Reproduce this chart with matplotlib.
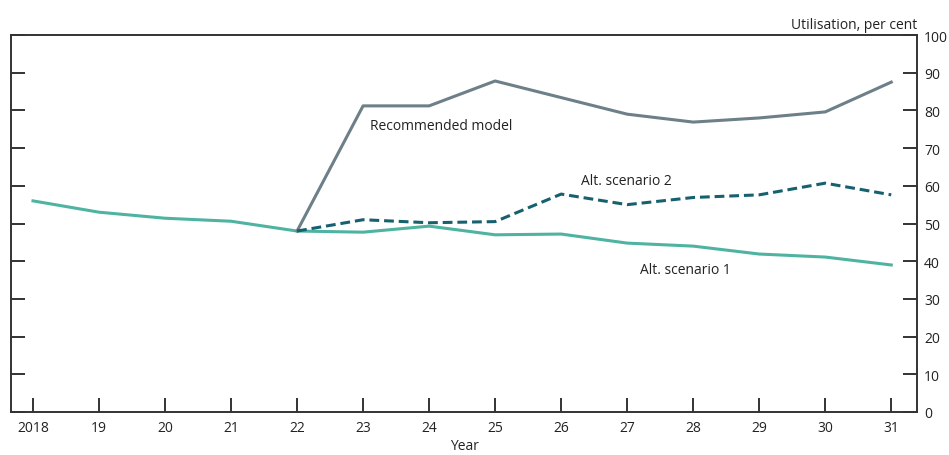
import matplotlib.pyplot as plt

plt.rcParams['font.family'] = ['Open Sans', 'DejaVu Sans']

# Data
years = list(range(2018, 2032))
year_labels = ['2018'] + [str(y)[2:] for y in years[1:]]
alt1 = [56, 53, 51.4, 50.6, 48, 47.7, 49.3, 47, 47.2, 44.8, 44, 41.9, 41.1, 39]
rec_years = list(range(2022, 2032))
recommended = [48, 81.2, 81.2, 87.8, 83.4, 79, 76.9, 78, 79.6, 87.5]
alt2 = [48, 51, 50.2, 50.5, 57.8, 55, 56.9, 57.6, 60.7, 57.6]

fig = plt.figure(figsize=(9.49, 4.56), dpi=100)
ax = fig.add_axes([11 / 949, 43 / 456, 906 / 949, 377 / 456])

ax.plot(years, alt1, color='#4fb3a2', lw=2.2)
ax.plot(rec_years, recommended, color='#6d7f88', lw=2.2)
ax.plot(rec_years, alt2, color='#17616e', lw=2.2, ls=(0, (3.2, 1.6)))

ax.text(2023.1, 76.1, 'Recommended model', fontsize=10, color='#222222', va='center')
ax.text(2026.3, 61.3, 'Alt. scenario 2', fontsize=10, color='#222222', va='center')
ax.text(2027.2, 37.8, 'Alt. scenario 1', fontsize=10, color='#222222', va='center')

ax.set_xlim(2017.667, 2031.39)
ax.set_ylim(0, 100)
ax.set_xticks(years)
ax.set_xticklabels(year_labels)
ax.set_yticks(range(0, 101, 10))

for s in ax.spines.values():
    s.set_color('#333333')
    s.set_linewidth(1.4)

ax.yaxis.tick_right()
ax.tick_params(axis='y', which='both', direction='in', length=10, width=1.4,
               color='#333333', left=True, right=True, labelleft=False,
               labelright=True, labelsize=10, pad=5)
ax.tick_params(axis='x', direction='in', length=10, width=1.4, color='#333333',
               labelsize=10, pad=6)
for lab in ax.get_yticklabels() + ax.get_xticklabels():
    lab.set_color('#222222')

ax.set_xlabel('Year', fontsize=10, color='#222222', labelpad=2)
ax.text(1.0, 1.008, 'Utilisation, per cent', transform=ax.transAxes, ha='right',
        va='bottom', fontsize=10, color='#222222')

fig.savefig('out.png', dpi=100)
